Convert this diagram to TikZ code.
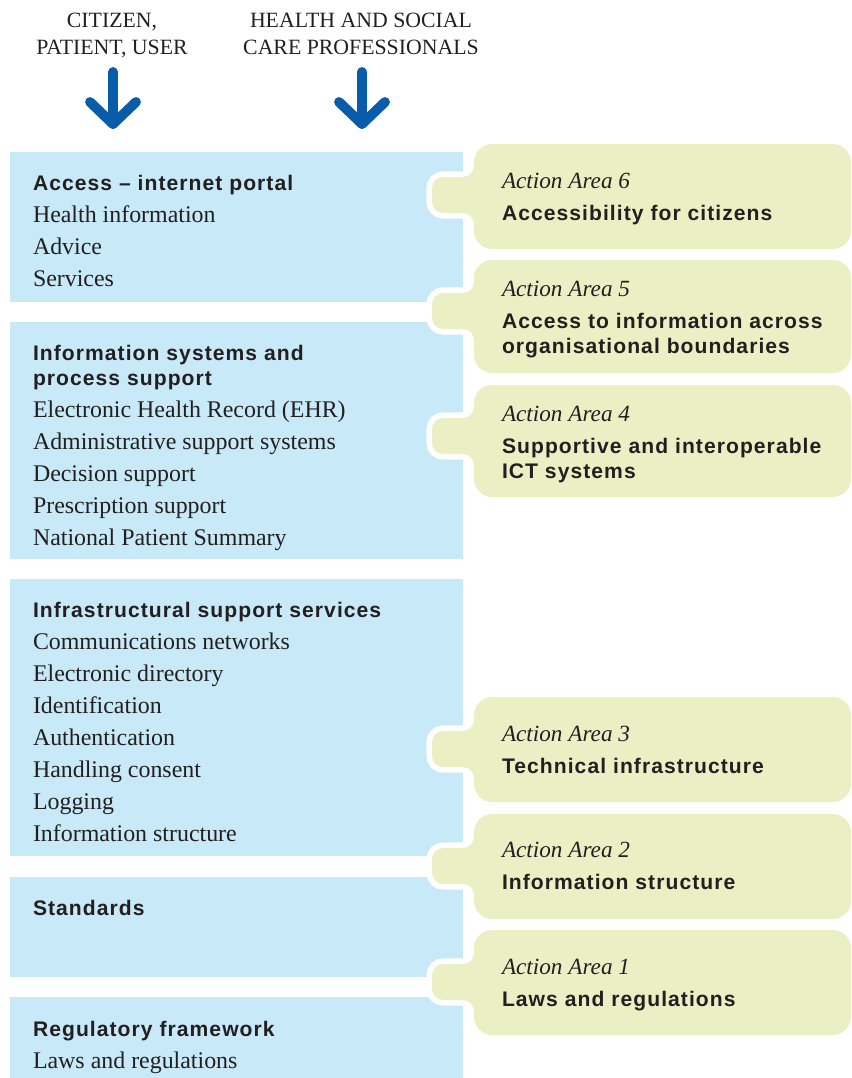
\documentclass[tikz,border=0pt]{standalone}
\usepackage{fontspec}
\setmainfont{Liberation Serif}
\newfontfamily\headsans[LetterSpace=5]{Liberation Sans}
\usetikzlibrary{positioning}
\definecolor{boxblue}{RGB}{199,233,248}
\definecolor{areagreen}{RGB}{234,240,196}
\definecolor{arrowblue}{RGB}{8,92,170}
\definecolor{inkdark}{RGB}{35,31,32}
% tab on the left of an action area, #1 = centre y
\newcommand{\areatab}[2]{\path[#2, rounded corners=8pt] (496,#1-40) -- (474,#1-40) -- (474,#1-18)
  -- (432,#1-18) -- (432,#1+18) -- (474,#1+18) -- (474,#1+40) -- (496,#1+40) -- cycle;}

\begin{document}
\begin{tikzpicture}[x=0.025cm, y=-0.025cm, inner sep=0pt, outer sep=0pt]
\tikzstyle{every node} = [text=inkdark, anchor=base west]
\tikzset{item/.style={font=\fontsize{17}{18}\selectfont},
  head/.style={font=\headsans\bfseries\fontsize{15}{18}\selectfont},
  area/.style={font=\itshape\fontsize{16.5}{18}\selectfont},
  who/.style={anchor=base, align=center, font=\fontsize{15.5}{18.5}\selectfont},
  downarrow/.style={draw=arrowblue, line width=7pt, line cap=round, line join=round}}
\useasboundingbox (0,0) rectangle (851,1078);

% layers
\fill[boxblue] (10,152) rectangle (463,302);
\fill[boxblue] (10,322) rectangle (463,559);
\fill[boxblue] (10,579) rectangle (463,856);
\fill[boxblue] (10,877) rectangle (463,977);
\fill[boxblue] (10,997) rectangle (463,1078);

\foreach \yc in {195,311,436,749,866,982}
  \areatab{\yc}{draw=white, line width=8pt};
\foreach \yt in {144,260,385,697,814,930}
  \fill[areagreen, rounded corners=13pt] (474,\yt) rectangle (851,\yt+105);
\fill[areagreen, rounded corners=13pt] (474,260) rectangle (851,373);
\fill[areagreen, rounded corners=13pt] (474,385) rectangle (851,497);
\foreach \yc in {195,311,436,749,866,982}
  \areatab{\yc}{fill=areagreen};

% who uses it
\node[who] (cit) at (112,54) {CITIZEN,\\PATIENT, USER};
\node[who] (pro) at (361,54) {HEALTH AND SOCIAL\\CARE PROFESSIONALS};
\coordinate (cit-top) at (113,72);
\coordinate (cit-tip) at (113,124);
\coordinate (pro-top) at (362,72);
\coordinate (pro-tip) at (362,124);
\draw[downarrow] (cit-top) -- (cit-tip);
\draw[downarrow] ([shift={(-23,-22)}]cit-tip) -- (cit-tip) -- ([shift={(23,-22)}]cit-tip);
\draw[downarrow] (pro-top) -- (pro-tip);
\draw[downarrow] ([shift={(-23,-22)}]pro-tip) -- (pro-tip) -- ([shift={(23,-22)}]pro-tip);

% blue column
\node[head] (portal) at (33,190) {Access \textendash{} internet portal};
\foreach \t [count=\i] in {Health information, Advice, Services}
  \node[item] (portal-\i) at (33,190+32*\i) {\t};

\node[head] (sys) at (33,360) {Information systems and};
\node[head] (sys-b) at (33,385) {process support};
\foreach \t [count=\i] in {Electronic Health Record (EHR), Administrative support systems,
  Decision support, Prescription support, National Patient Summary}
  \node[item] (sys-\i) at (33,385+32*\i) {\t};

\node[head] (infra) at (33,617) {Infrastructural support services};
\foreach \t [count=\i] in {Communications networks, Electronic directory, Identification,
  Authentication, Handling consent, Logging, Information structure}
  \node[item] (infra-\i) at (33,617+32*\i) {\t};

\node[head] (std) at (33,915) {Standards};

\node[head] (reg) at (33,1036) {Regulatory framework};
\node[item] (reg-1) at (33,1068) {Laws and regulations};

% action areas
\node[area] (aa6) at (502,188) {Action Area 6};
\node[head] (aa6-t) at (502,220) {Accessibility for citizens};
\node[area] (aa5) at (502,296) {Action Area 5};
\node[head] (aa5-t) at (502,328) {Access to information across};
\node[head] (aa5-b) at (502,353) {organisational boundaries};
\node[area] (aa4) at (502,421) {Action Area 4};
\node[head] (aa4-t) at (502,453) {Supportive and interoperable};
\node[head] (aa4-b) at (502,478) {ICT systems};
\node[area] (aa3) at (502,741) {Action Area 3};
\node[head] (aa3-t) at (502,773) {Technical infrastructure};
\node[area] (aa2) at (502,857) {Action Area 2};
\node[head] (aa2-t) at (502,889) {Information structure};
\node[area] (aa1) at (502,974) {Action Area 1};
\node[head] (aa1-t) at (502,1006) {Laws and regulations};
\end{tikzpicture}
\end{document}
